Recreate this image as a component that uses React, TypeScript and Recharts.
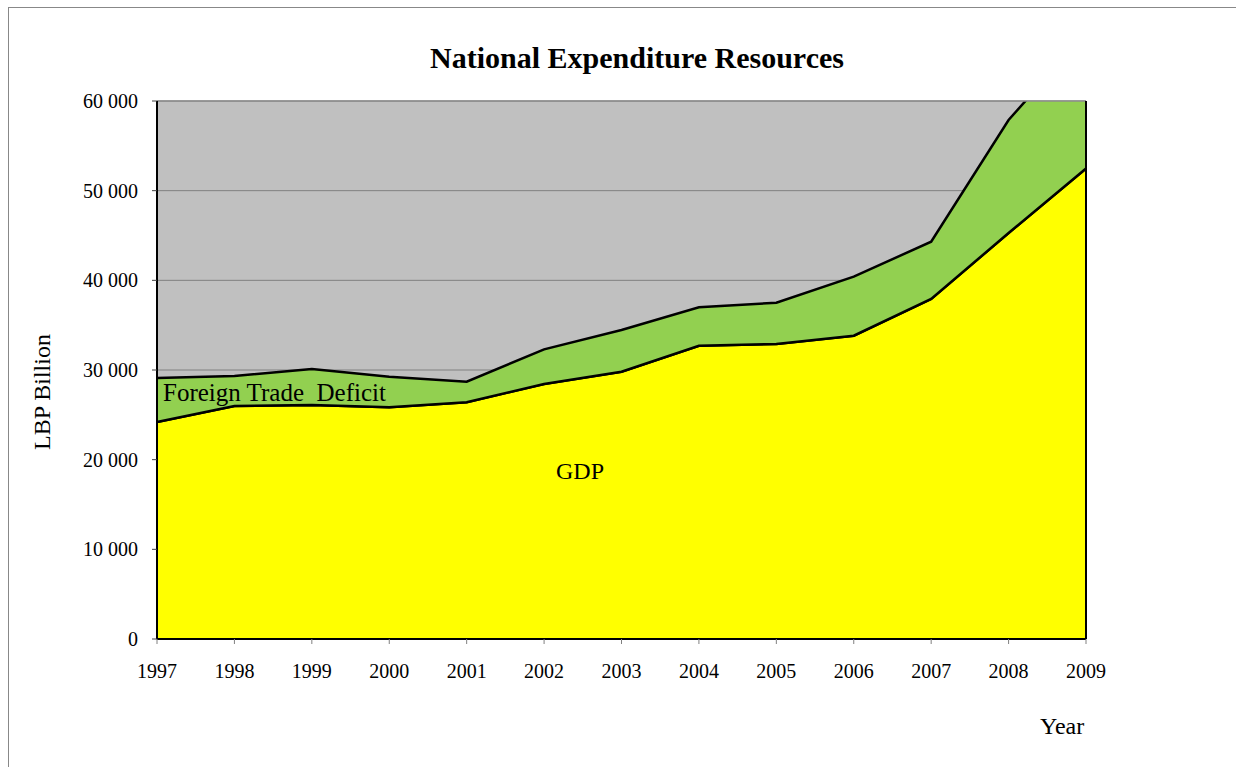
import React from "react";
import {
  AreaChart,
  Area,
  XAxis,
  YAxis,
  CartesianGrid,
  ReferenceLine,
} from "recharts";

const YEARS = ["1997", "1998", "1999", "2000", "2001", "2002", "2003", "2004", "2005", "2006", "2007", "2008", "2009"];
const GDP = [24200, 25980, 26100, 25840, 26400, 28440, 29810, 32710, 32900, 33830, 37920, 45280, 52470];
const TRADE_DEFICIT = [4900, 3350, 4000, 3400, 2300, 3860, 4650, 4280, 4600, 6580, 6390, 12600, 15130];
const Y_TICKS = [0, 10000, 20000, 30000, 40000, 50000, 60000];

const FONT = '"Liberation Serif", "Times New Roman", serif';

const data = YEARS.map((year, i) => ({
  year,
  gdp: GDP[i],
  deficit: TRADE_DEFICIT[i],
}));

const fmt = (v: number) => (v === 0 ? "0" : `${v / 1000} 000`);

const text = (extra: React.CSSProperties): React.CSSProperties => ({
  position: "absolute",
  fontFamily: FONT,
  color: "#000",
  whiteSpace: "nowrap",
  lineHeight: 1,
  ...extra,
});

export default function App() {
  return (
    <div
      style={{
        position: "absolute",
        left: 0,
        top: 0,
        width: 1236,
        height: 767,
        overflow: "hidden",
        background: "#fff",
      }}
    >
      <div
        style={{
          position: "absolute",
          left: 8,
          top: 7,
          width: 1260,
          height: 800,
          border: "1px solid #888",
        }}
      />
      <AreaChart
        width={1236}
        height={767}
        data={data}
        margin={{ top: 101, right: 150, bottom: 88, left: 0 }}
        style={{ position: "absolute", left: 0, top: 0 }}
      >
        <CartesianGrid vertical={false} stroke="#808080" strokeWidth={1} fill="#c0c0c0" />
        <XAxis
          dataKey="year"
          height={40}
          tickSize={5}
          tickMargin={20}
          axisLine={{ stroke: "#000", strokeWidth: 2 }}
          tickLine={{ stroke: "#808080" }}
          tick={{ fill: "#000", fontFamily: FONT, fontSize: 20 }}
          interval={0}
        />
        <YAxis
          width={157}
          domain={[0, 60000]}
          ticks={Y_TICKS}
          allowDataOverflow
          tickSize={5}
          tickMargin={14}
          tickFormatter={fmt}
          axisLine={{ stroke: "#000", strokeWidth: 2 }}
          tickLine={{ stroke: "#404040" }}
          tick={{ fill: "#000", fontFamily: FONT, fontSize: 20 }}
        />
        <Area
          type="linear"
          dataKey="gdp"
          stackId="a"
          fill="#ffff00"
          fillOpacity={1}
          stroke="#000"
          strokeWidth={2.5}
          isAnimationActive={false}
        />
        <Area
          type="linear"
          dataKey="deficit"
          stackId="a"
          fill="#92d050"
          fillOpacity={1}
          stroke="#000"
          strokeWidth={2.5}
          isAnimationActive={false}
        />
        {/* GDP outline again so the deficit fill doesn't cover half of it */}
        <Area
          type="linear"
          dataKey="gdp"
          fill="none"
          stroke="#000"
          strokeWidth={2.5}
          isAnimationActive={false}
          legendType="none"
        />
        <ReferenceLine y={60000} stroke="#8c8c8c" strokeWidth={1.5} />
        <ReferenceLine x="2009" stroke="#000" strokeWidth={2} />
      </AreaChart>
      <div style={text({ left: 0, width: 1274, top: 43, textAlign: "center", fontSize: 30, fontWeight: "bold" })}>
        National Expenditure Resources
      </div>
      <div
        style={text({
          left: 42,
          top: 392,
          fontSize: 24,
          transform: "translate(-50%, -50%) rotate(-90deg)",
        })}
      >
        LBP Billion
      </div>
      <div style={text({ left: 1040, top: 714, fontSize: 24 })}>Year</div>
      <div style={text({ left: 163, top: 380, fontSize: 25, whiteSpace: "pre" })}>
        {"Foreign Trade  Deficit"}
      </div>
      <div style={text({ left: 556, top: 459, fontSize: 24 })}>GDP</div>
    </div>
  );
}
